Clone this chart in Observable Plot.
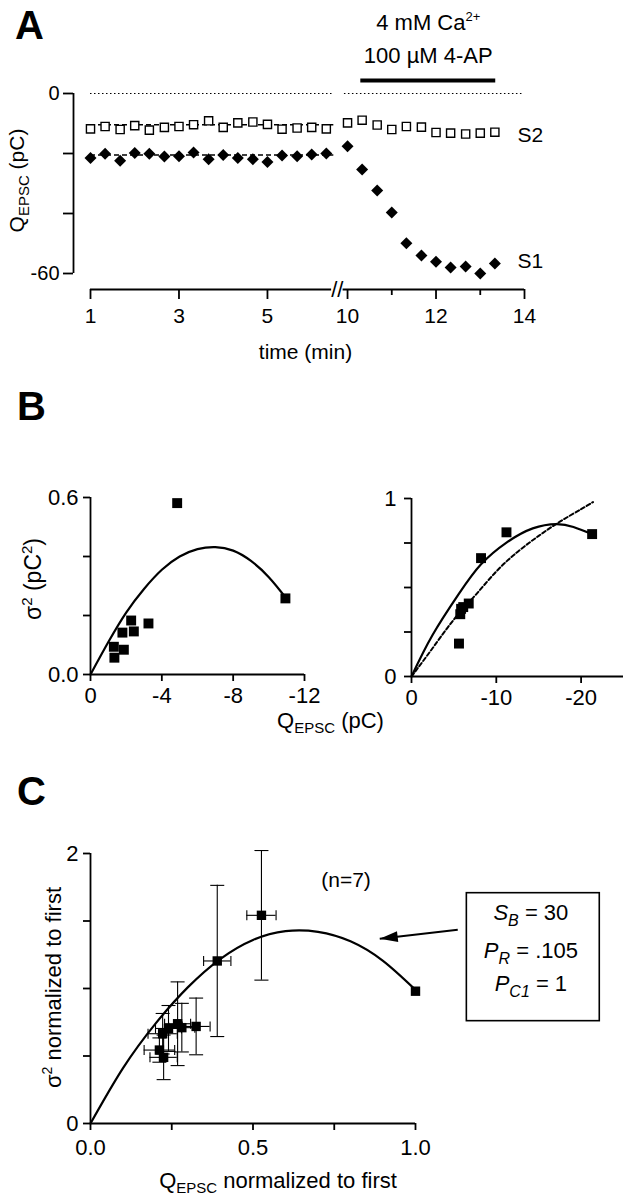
<!DOCTYPE html>
<html><head><meta charset="utf-8">
<script src="https://cdn.jsdelivr.net/npm/d3@7"></script>
<script src="https://cdn.jsdelivr.net/npm/@observablehq/plot@0.6"></script>
<style>
html,body{margin:0;padding:0;background:#fff;}
#fig{position:relative;width:633px;height:1199px;overflow:hidden;font-family:"Liberation Sans",Arial,Helvetica,sans-serif;background:#fff;}
.letter{position:absolute;font-weight:bold;font-size:40px;line-height:40px;color:#000;}
</style></head>
<body><div id="fig"></div>
<script>
// ---------- Panel A data ----------
const timeLeftA = [1, 1.33, 1.67, 2, 2.33, 2.67, 3, 3.33, 3.67, 4, 4.33, 4.67, 5, 5.33, 5.67, 6, 6.33];
const timeRightA = [10, 10.33, 10.67, 11, 11.33, 11.67, 12, 12.33, 12.67, 13, 13.33];
const s2Pc = [-11.8, -11.0, -12.0, -10.7, -12.2, -11.3, -11.0, -10.4, -9.1, -11.3, -9.8, -9.5, -10.3, -11.9, -11.5, -11.3, -11.8,
              -9.8, -8.9, -10.5, -12.0, -11.0, -11.2, -13.0, -13.2, -13.5, -13.2, -12.9];
const s1Pc = [-21.5, -20.1, -22.4, -19.8, -20.1, -21.0, -20.9, -19.7, -21.9, -20.5, -21.5, -21.9, -22.8, -20.7, -20.9, -20.3, -20.0,
              -17.6, -25.3, -32.3, -39.7, -49.9, -54.0, -56.1, -58.0, -57.7, -60.0, -56.7];
const baselineA = [{name: "S2", y: -10.4}, {name: "S1", y: -20.5}];
const baselineSpanA = [1, 6.5];
const seriesLabelsA = [{name: "S2", y: -14}, {name: "S1", y: -56}];
const seriesLabelTimeA = 13.84;
const yTicksA = [0, -20, -40, -60];
const yTickLabelsA = [0, -60];
const xTicksA = [1, 3, 5, 10, 12, 14];
const xMinorTicksA = [11, 13];
const treatA = {start: 10.3, end: 13.35, line1: "4 mM Ca2+", line2: "100 µM 4-AP"};
const axisSegA = [[1, 6.45], [9.9, 14]];
const zeroSegA = [[1, 6.49], [9.93, 13.96]];
const breakAt = 8, breakShift = 3.19;

// ---------- Panel B data ----------
const pointsBL = [[-1.31, 0.094], [-1.34, 0.057], [-1.87, 0.084], [-1.79, 0.142], [-2.28, 0.183], [-2.43, 0.146], [-3.25, 0.173], [-4.86, 0.581], [-10.93, 0.258]];
const curveBL = [[0, 0], [-1, 0.11], [-2, 0.21], [-3, 0.29], [-4, 0.355], [-5, 0.40], [-6, 0.425], [-7, 0.432], [-8, 0.42], [-9, 0.385], [-10, 0.33], [-10.93, 0.262]];
const yTicksBL = [0, 0.2, 0.4, 0.6];
const xTicksBL = [0, -4, -8, -12];

const pointsBR = [[-5.6, 0.185], [-5.75, 0.35], [-5.85, 0.38], [-6.1, 0.39], [-6.75, 0.41], [-8.2, 0.665], [-11.2, 0.81], [-21.3, 0.80]];
const curveBRsolid = [[0, 0], [-2.45, 0.23], [-5.6, 0.465], [-8.2, 0.63], [-11.2, 0.752], [-14.3, 0.832], [-17.1, 0.856], [-19.1, 0.84], [-21.3, 0.80]];
const curveBRdashed = [[0, 0], [-2.5, 0.16], [-5, 0.32], [-7.5, 0.455], [-10, 0.59], [-12.5, 0.70], [-15, 0.79], [-17.5, 0.87], [-20, 0.94], [-21.4, 0.98]];
const yTicksBR = [0, 0.25, 0.5, 0.75, 1];
const xTicksBR = [0, -10, -20];

// ---------- Panel C data ----------
const qC  = [1.0, 0.526, 0.39, 0.325, 0.281, 0.268, 0.24, 0.222, 0.212, 0.225];
const vC  = [0.98, 1.542, 1.204, 0.719, 0.71, 0.739, 0.704, 0.665, 0.544, 0.49];
const qeC = [0, 0.045, 0.042, 0.043, 0.04, 0.04, 0.04, 0.045, 0.047, 0.042];
const veC = [0, 0.48, 0.56, 0.21, 0.18, 0.31, 0.17, 0.15, 0.09, 0.165];
const curveC = [[0, 0], [0.1, 0.41], [0.2, 0.74], [0.3, 1.01], [0.4, 1.22], [0.5, 1.36], [0.6, 1.425], [0.7, 1.42], [0.8, 1.35], [0.9, 1.205], [1.0, 0.99]];
const yTicksC = [0, 0.5, 1, 1.5, 2];
const xTicksC = [0, 0.25, 0.5, 0.75, 1];
const boxC = {x1: 1.158, x2: 1.567, y1: 0.758, y2: 1.706, tx: 1.355};
const boxLinesC = [{t: "SB = 30", y: 1.562}, {t: "PR = .105", y: 1.281}, {t: "PC1 = 1", y: 1.037}];
const arrowC = {x1: 1.13, y1: 1.436, x2: 0.89, y2: 1.369};

// ---------- helpers ----------
const fig = document.getElementById("fig");
const FONT = '"Liberation Sans", Arial, Helvetica, sans-serif';
const baseStyle = {fontFamily: FONT, fontSize: "20px", background: "transparent", overflow: "visible", color: "black"};
const disp = t => (t < breakAt ? t : t - breakShift);
const SW = 1.8;
const MID = {textAnchor: "middle", lineAnchor: "middle"};

function place(svg, left, top) {
  svg.style.position = "absolute";
  svg.style.left = left + "px";
  svg.style.top = top + "px";
  fig.appendChild(svg);
  return svg;
}
function rich(svg, map) {
  svg.querySelectorAll("text").forEach(t => {
    const k = t.textContent;
    if (Object.prototype.hasOwnProperty.call(map, k)) t.innerHTML = map[k];
  });
}
function letter(ch, left, top) {
  const d = document.createElement("div");
  d.className = "letter";
  d.textContent = ch;
  d.style.left = left + "px";
  d.style.top = top + "px";
  fig.appendChild(d);
}
const richMap = {
  "QEPSC (pC)": 'Q<tspan font-size="15" dy="5">EPSC</tspan><tspan dy="-5"> (pC)</tspan>',
  "σ2 (pC2)": 'σ<tspan font-size="15" dy="-9">2</tspan><tspan dy="9"> (pC</tspan><tspan font-size="15" dy="-9">2</tspan><tspan dy="9">)</tspan>',
  "4 mM Ca2+": '4 mM Ca<tspan font-size="13" dy="-9">2+</tspan>',
  "σ2 normalized to first": 'σ<tspan font-size="14" dy="-9">2</tspan><tspan dy="9"> normalized to first</tspan>',
  "QEPSC normalized to first": 'Q<tspan font-size="15" dy="5">EPSC</tspan><tspan dy="-5"> normalized to first</tspan>',
  "SB = 30": '<tspan font-style="italic">S</tspan><tspan font-style="italic" font-size="16" dy="6">B</tspan><tspan dy="-6"> = 30</tspan>',
  "PR = .105": '<tspan font-style="italic">P</tspan><tspan font-style="italic" font-size="16" dy="6">R</tspan><tspan dy="-6"> = .105</tspan>',
  "PC1 = 1": '<tspan font-style="italic">P</tspan><tspan font-style="italic" font-size="16" dy="6">C1</tspan><tspan dy="-6"> = 1</tspan>'
};
const hcap = {draw(ctx) { ctx.moveTo(-7, 0); ctx.lineTo(7, 0); }};
const vcap = {draw(ctx) { ctx.moveTo(0, -5); ctx.lineTo(0, 5); }};
const headLeft = {draw(ctx) { ctx.moveTo(0, 0); ctx.lineTo(18, -5.5); ctx.lineTo(18, 5.5); ctx.closePath(); }};

// ---------- Panel A ----------
const timeA = timeLeftA.concat(timeRightA);
const s2 = timeA.map((t, i) => ({x: disp(t), y: s2Pc[i]}));
const s1 = timeA.map((t, i) => ({x: disp(t), y: s1Pc[i]}));
const xLabelMapA = new Map(xTicksA.map(t => [disp(t), String(t)]));
const treatMid = disp((treatA.start + treatA.end) / 2);

const plotA = Plot.plot({
  width: 633, height: 380,
  marginLeft: 90, marginRight: 109, marginTop: 93, marginBottom: 107,
  x: {domain: [disp(1), disp(14)]},
  y: {domain: [-60, 0]},
  style: baseStyle,
  marks: [
    Plot.ruleX([disp(1)], {y1: -60, y2: 0, dx: -17, strokeWidth: SW}),
    Plot.axisY({ticks: yTicksA, tickSize: 10, tickPadding: 4, dx: -17, strokeWidth: SW,
      tickFormat: d => (yTickLabelsA.includes(d) ? String(d) : ""), fontSize: 20, label: null}),
    Plot.ruleY(axisSegA, {y: -60, x1: d => disp(d[0]), x2: d => disp(d[1]), dy: 16, strokeWidth: SW}),
    Plot.axisX({ticks: xTicksA.map(disp), tickSize: 10, tickPadding: 9, dy: 16, strokeWidth: SW,
      tickFormat: d => xLabelMapA.get(d) ?? "", fontSize: 21, label: null}),
    Plot.axisX({ticks: xMinorTicksA.map(disp), tickSize: 6, dy: 16, strokeWidth: SW, tickFormat: () => "", label: null}),
    Plot.text(["//"], {x: (disp(axisSegA[0][1]) + disp(axisSegA[1][0])) / 2, y: -60, dy: 16, text: d => d, fontSize: 22}),
    Plot.ruleY(zeroSegA, {y: 0, x1: d => disp(d[0]), x2: d => disp(d[1]), strokeWidth: 1.2, strokeDasharray: "1.5,2.5"}),
    Plot.ruleY(baselineA, {y: "y", x1: disp(baselineSpanA[0]), x2: disp(baselineSpanA[1]), strokeWidth: 1.6, strokeDasharray: "5,3"}),
    Plot.dot(s2, {x: "x", y: "y", symbol: "square", r: 4.6, fill: "white", stroke: "black", strokeWidth: 1.4}),
    Plot.dot(s1, {x: "x", y: "y", symbol: "diamond2", r: 5.4, fill: "black", stroke: "none"}),
    Plot.text(seriesLabelsA, {x: disp(seriesLabelTimeA), y: "y", text: "name", textAnchor: "start", fontSize: 21}),
    Plot.ruleY([treatA], {x1: d => disp(d.start), x2: d => disp(d.end), y: 0, dy: -13, strokeWidth: 4}),
    Plot.text([treatA.line2], {x: treatMid, y: 0, dy: -38, text: d => d, fontSize: 22}),
    Plot.text([treatA.line1], {x: treatMid, y: 0, dy: -71, text: d => d, fontSize: 22}),
    Plot.text(["QEPSC (pC)"], {frameAnchor: "left", rotate: -90, dx: -73, dy: -3, text: d => d, fontSize: 21, ...MID}),
    Plot.text(["time (min)"], {frameAnchor: "bottom", dx: -2, dy: 79, text: d => d, fontSize: 21, ...MID})
  ]
});
place(plotA, 0, 0);
rich(plotA, richMap);

// ---------- Panel B left ----------
const plotBL = Plot.plot({
  width: 330, height: 300,
  marginLeft: 90, marginRight: 26, marginTop: 57, marginBottom: 66,
  x: {domain: [0, -12]},
  y: {domain: [0, 0.6]},
  style: baseStyle,
  marks: [
    Plot.ruleX([0], {y1: 0, y2: 0.6, strokeWidth: SW}),
    Plot.ruleY([0], {x1: 0, x2: -12, strokeWidth: SW}),
    Plot.axisY({ticks: yTicksBL, tickSize: 7, tickPadding: 5, strokeWidth: SW,
      tickFormat: d => (d === 0 ? "0.0" : d === 0.6 ? "0.6" : ""), fontSize: 22, label: null}),
    Plot.axisX({ticks: xTicksBL, tickSize: 7, tickPadding: 6, strokeWidth: SW,
      tickFormat: d => String(d), fontSize: 22, label: null}),
    Plot.line(curveBL, {x: d => d[0], y: d => d[1], curve: "natural", strokeWidth: 2.2}),
    Plot.dot(pointsBL, {x: d => d[0], y: d => d[1], symbol: "square", r: 5.6, fill: "black", stroke: "none"}),
    Plot.text(["σ2 (pC2)"], {frameAnchor: "left", rotate: -90, dx: -57, dy: -7, text: d => d, fontSize: 23, ...MID}),
    Plot.text(["QEPSC (pC)"], {frameAnchor: "bottom", dx: 133, dy: 46, text: d => d, fontSize: 22, ...MID})
  ]
});
place(plotBL, 0, 440);
rich(plotBL, richMap);

// ---------- Panel B right ----------
const plotBR = Plot.plot({
  width: 303, height: 300,
  marginLeft: 81, marginRight: 10, marginTop: 58, marginBottom: 64,
  x: {domain: [0, -25]},
  y: {domain: [0, 1]},
  style: baseStyle,
  marks: [
    Plot.ruleX([0], {y1: 0, y2: 1, strokeWidth: SW}),
    Plot.ruleY([0], {x1: 0, x2: -25, strokeWidth: SW}),
    Plot.axisY({ticks: yTicksBR, tickSize: 7, tickPadding: 8, strokeWidth: SW,
      tickFormat: d => (d === 0 || d === 1 ? String(d) : ""), fontSize: 22, label: null}),
    Plot.axisX({ticks: xTicksBR, tickSize: 7, tickPadding: 6, strokeWidth: SW,
      tickFormat: d => String(d), fontSize: 22, label: null}),
    Plot.line(curveBRdashed, {x: d => d[0], y: d => d[1], curve: "natural", strokeWidth: 2, strokeDasharray: "4,2.5"}),
    Plot.line(curveBRsolid, {x: d => d[0], y: d => d[1], curve: "natural", strokeWidth: 2.2}),
    Plot.dot(pointsBR, {x: d => d[0], y: d => d[1], symbol: "square", r: 5.6, fill: "black", stroke: "none"})
  ]
});
place(plotBR, 330, 440);

// ---------- Panel C ----------
const ptsC = qC.map((q, i) => ({x: q, y: vC[i], xe: qeC[i], ye: veC[i]}));
const errC = ptsC.filter(d => d.ye > 0);
const plotC = Plot.plot({
  width: 633, height: 399,
  marginLeft: 90, marginRight: 218, marginTop: 53, marginBottom: 76,
  x: {domain: [0, 1]},
  y: {domain: [0, 2]},
  style: baseStyle,
  marks: [
    Plot.ruleX([0], {y1: 0, y2: 2, strokeWidth: SW}),
    Plot.ruleY([0], {x1: 0, x2: 1, strokeWidth: SW}),
    Plot.axisY({ticks: yTicksC, tickSize: 7, tickPadding: 5, strokeWidth: SW,
      tickFormat: d => (d === 0 || d === 2 ? String(d) : ""), fontSize: 22, label: null}),
    Plot.axisX({ticks: xTicksC, tickSize: 7, tickPadding: 9, strokeWidth: SW,
      tickFormat: d => (d === 0 ? "0.0" : d === 0.5 ? "0.5" : d === 1 ? "1.0" : ""), fontSize: 22, label: null}),
    Plot.ruleX(errC, {x: "x", y1: d => d.y - d.ye, y2: d => d.y + d.ye, strokeWidth: 1.1}),
    Plot.ruleY(errC, {y: "y", x1: d => d.x - d.xe, x2: d => d.x + d.xe, strokeWidth: 1.1}),
    Plot.dot(errC, {x: "x", y: d => d.y + d.ye, symbol: hcap, stroke: "black", fill: "none", strokeWidth: 1.1}),
    Plot.dot(errC, {x: "x", y: d => d.y - d.ye, symbol: hcap, stroke: "black", fill: "none", strokeWidth: 1.1}),
    Plot.dot(errC, {x: d => d.x + d.xe, y: "y", symbol: vcap, stroke: "black", fill: "none", strokeWidth: 1.1}),
    Plot.dot(errC, {x: d => d.x - d.xe, y: "y", symbol: vcap, stroke: "black", fill: "none", strokeWidth: 1.1}),
    Plot.line(curveC, {x: d => d[0], y: d => d[1], curve: "natural", strokeWidth: 2.2}),
    Plot.dot(ptsC, {x: "x", y: "y", symbol: "square", r: 5.3, fill: "black", stroke: "none"}),
    Plot.text(["(n=7)"], {frameAnchor: "top", dx: 93, dy: 27, text: d => d, fontSize: 21, ...MID}),
    Plot.rect([boxC], {x1: "x1", x2: "x2", y1: "y1", y2: "y2", fill: "none", stroke: "black", strokeWidth: 1.6}),
    Plot.text(boxLinesC, {x: boxC.tx, y: "y", text: "t", fontSize: 22}),
    Plot.link([arrowC], {x1: "x1", y1: "y1", x2: "x2", y2: "y2", strokeWidth: 2}),
    Plot.dot([arrowC], {x: "x2", y: "y2", symbol: headLeft, fill: "black", stroke: "none", rotate: -6.6}),
    Plot.text(["σ2 normalized to first"], {frameAnchor: "left", rotate: -90, dx: -37, dy: -1, text: d => d, fontSize: 22, ...MID}),
    Plot.text(["QEPSC normalized to first"], {frameAnchor: "bottom", dx: 25, dy: 57, text: d => d, fontSize: 22, ...MID})
  ]
});
place(plotC, 0, 800);
rich(plotC, richMap);

// ---------- panel letters ----------
letter("A", 15, 5);
letter("B", 17, 386);
letter("C", 17, 771);
</script>
</body></html>
